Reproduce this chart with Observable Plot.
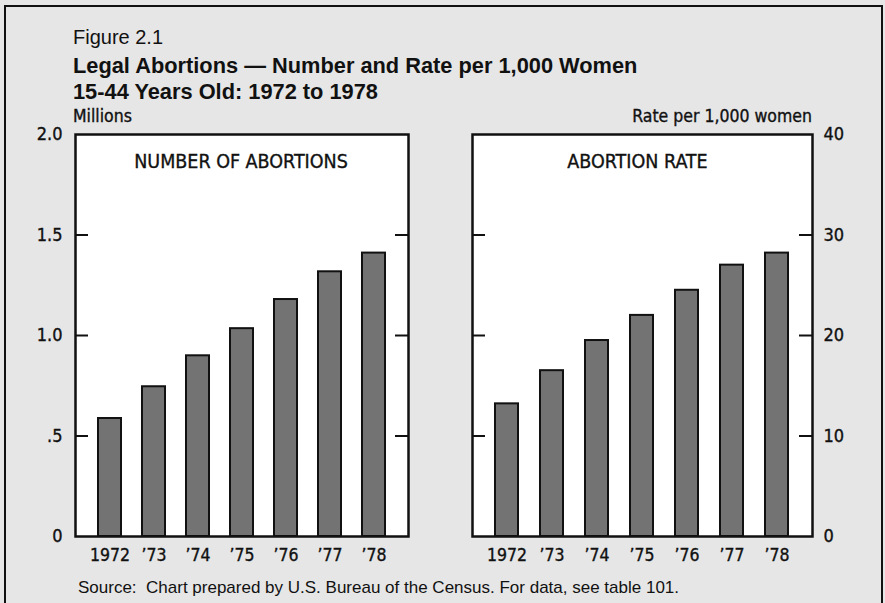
<!DOCTYPE html>
<html><head><meta charset="utf-8">
<script src="https://cdn.jsdelivr.net/npm/d3@7"></script>
<script src="https://cdn.jsdelivr.net/npm/@observablehq/plot@0.6"></script>
<style>
html,body{margin:0;padding:0;background:#e6e6e6;}
#fig{position:relative;width:885px;height:603px;overflow:hidden;background:#e6e6e6;font-family:"Liberation Sans",Arial,sans-serif;color:#111;}
.cond, .cond svg, .cond text{font-family:"DejaVu Sans Condensed","DejaVu Sans",sans-serif;font-stretch:condensed;}
.cond text{stroke:#111;stroke-width:0.35px;}
div.cond{-webkit-text-stroke:0.35px #111;}
.abs{position:absolute;white-space:nowrap;line-height:1;}
#border{position:absolute;left:4px;top:5px;width:879px;height:640px;border:2.5px solid #111;box-sizing:border-box;}
.panel{position:absolute;top:0;}
</style></head>
<body><div id="fig">
<div id="border"></div>
<div class="abs" style="left:73px;top:27px;font-size:20px;">Figure 2.1</div>
<div class="abs" style="left:73px;top:55px;font-size:21.8px;font-weight:bold;">Legal Abortions — Number and Rate per 1,000 Women</div>
<div class="abs" style="left:73px;top:81px;font-size:21.8px;font-weight:bold;">15-44 Years Old: 1972 to 1978</div>
<div class="abs cond" style="left:73px;top:108px;font-size:17.5px;">Millions</div>
<div class="abs cond" style="right:73px;top:108px;font-size:17.5px;text-align:right;">Rate per 1,000 women</div>
<div id="left" class="panel cond" style="left:0px;-webkit-text-stroke:0;"></div>
<div id="right" class="panel cond" style="left:442px;-webkit-text-stroke:0;"></div>
<div class="abs" style="left:78px;top:579px;font-size:17px;">Source:&nbsp; Chart prepared by U.S. Bureau of the Census. For data, see table 101.</div>
</div>
<script>
const years = ["1972","1973","1974","1975","1976","1977","1978"];
const yearLabels = ["1972","\u201973","\u201974","\u201975","\u201976","\u201977","\u201978"];
const abortionsMillions = [0.587, 0.745, 0.899, 1.034, 1.179, 1.317, 1.410];
const ratePer1000 = [13.2, 16.5, 19.5, 22.0, 24.5, 27.0, 28.2];
const leftTicks = [0, 0.5, 1.0, 1.5, 2.0];
const leftTickLabels = ["0", ".5", "1.0", "1.5", "2.0"];
const rightTicks = [0, 10, 20, 30, 40];
const rightTickLabels = ["0", "10", "20", "30", "40"];
const leftTitle = "NUMBER OF ABORTIONS";
const rightTitle = "ABORTION RATE";

const barFill = "#737373";
const ink = "#111";

function panel({values, ticks, tickLabels, domain, title, anchor, width, height, mL, mR, mT, mB, titleDx}) {
  const data = years.map((y, i) => ({year: y, value: values[i]}));
  const inner = ticks.filter(t => t > domain[0] && t < domain[1]);
  const fw = width - mL - mR;
  return Plot.plot({
    width, height,
    marginLeft: mL, marginRight: mR, marginTop: mT, marginBottom: mB,
    style: {background: "transparent", fontSize: "17px", color: ink, overflow: "visible"},
    x: {type: "band", domain: years, paddingInner: 0.48, paddingOuter: 0.5},
    y: {domain},
    marks: [
      Plot.frame({fill: "white", stroke: null}),
      Plot.barY(data, {x: "year", y: "value", fill: barFill, stroke: ink, strokeWidth: 2}),
      Plot.ruleY(inner, {stroke: ink, strokeWidth: 2, insetRight: fw - 13}),
      Plot.ruleY(inner, {stroke: ink, strokeWidth: 2, insetLeft: fw - 13}),
      Plot.axisX({tickSize: 0, tickPadding: 12, fontSize: 17.5,
        tickFormat: d => yearLabels[years.indexOf(d)], label: null}),
      Plot.axisY({anchor, ticks, tickSize: 0, tickPadding: anchor === "left" ? 13 : 11, fontSize: 18,
        tickFormat: d => tickLabels[ticks.indexOf(d)], label: null}),
      Plot.text([title], {frameAnchor: "top", lineAnchor: "top", dy: 20, dx: titleDx, fontSize: 19.5, fill: ink}),
      Plot.frame({stroke: ink, strokeWidth: 2.5})
    ]
  });
}

document.getElementById("left").appendChild(panel({
  values: abortionsMillions, ticks: leftTicks, tickLabels: leftTickLabels, domain: [0, 2],
  title: leftTitle, anchor: "left", width: 442, height: 578, mL: 75, mR: 34, mT: 134, mB: 42, titleDx: -1
}));
document.getElementById("right").appendChild(panel({
  values: ratePer1000, ticks: rightTicks, tickLabels: rightTickLabels, domain: [0, 40],
  title: rightTitle, anchor: "right", width: 443, height: 578, mL: 30, mR: 73, mT: 134, mB: 42, titleDx: -5
}));
</script>
</body></html>
